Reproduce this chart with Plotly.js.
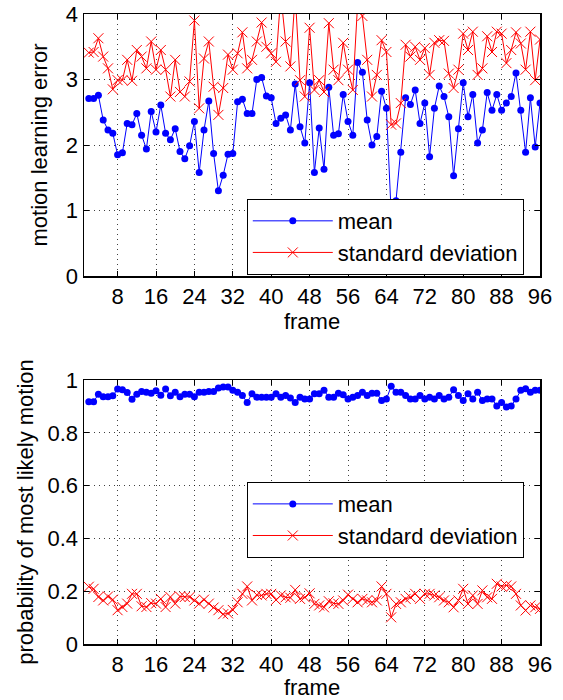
<!DOCTYPE html>
<html>
<head>
<meta charset="utf-8">
<script src="https://cdn.plot.ly/plotly-3.0.1.min.js"></script>
<style>html,body{margin:0;padding:0;background:#fff;}</style>
</head>
<body>
<div id="chart" style="width:563px;height:700px;"></div>
<script>
// frame numbers (x)
const frames = [2,3,4,5,6,7,8,9,10,11,12,13,14,15,16,17,18,19,20,21,22,23,24,25,26,27,28,29,30,31,32,33,34,35,36,37,38,39,40,41,42,43,44,45,46,47,48,49,50,51,52,53,54,55,56,57,58,59,60,61,62,63,64,65,66,67,68,69,70,71,72,73,74,75,76,77,78,79,80,81,82,83,84,85,86,87,88,89,90,91,92,93,94,95,96];
const xTicks = [8,16,24,32,40,48,56,64,72,80,88,96];

// top panel: motion learning error
const errMean = [2.71,2.71,2.76,2.38,2.23,2.18,1.85,1.88,2.33,2.31,2.48,2.15,1.94,2.51,2.20,2.61,2.18,2.08,2.25,1.90,1.79,1.99,2.36,1.58,2.23,2.67,1.87,1.30,1.54,1.86,
  1.87,2.66,2.70,2.48,2.48,3.00,3.03,2.75,2.72,2.33,2.41,2.46,2.23,2.93,2.28,2.03,2.95,1.58,2.26,1.63,2.88,2.15,2.17,2.77,2.36,2.15,3.26,3.11,2.38,2.00,2.13,2.82,2.56,
  0.95,1.15,1.89,2.72,2.62,2.84,2.33,2.64,1.82,2.56,2.90,2.74,2.43,1.53,2.25,2.95,2.43,2.77,2.03,2.23,2.80,2.53,2.77,2.53,2.64,2.74,3.10,2.53,1.89,2.72,1.97,2.64];
const errStd = [3.41,3.42,3.63,3.35,3.17,2.85,2.99,2.99,3.30,2.98,3.45,3.35,3.17,3.58,3.15,3.45,3.15,2.74,3.30,2.81,2.74,2.97,3.90,2.56,3.32,3.58,2.89,2.46,2.87,3.38,
  3.15,3.40,3.72,3.17,3.30,3.58,3.87,3.50,3.40,3.27,4.30,3.58,3.20,4.30,2.99,2.74,3.79,2.84,2.99,2.81,3.86,3.15,2.99,3.56,3.15,2.84,4.15,3.97,3.30,2.74,3.07,3.60,3.42,
  2.31,2.33,2.64,3.53,3.35,3.50,3.30,3.48,3.07,3.56,3.60,3.59,3.09,2.87,3.15,3.70,3.45,3.73,3.07,3.17,3.66,3.42,3.73,3.70,3.25,3.45,3.72,3.55,3.15,3.73,2.99,3.61];
const errTicks = [0,1,2,3,4];

// bottom panel: probability of most likely motion
const probMean = [0.918,0.918,0.946,0.937,0.937,0.940,0.966,0.963,0.953,0.927,0.946,0.957,0.954,0.950,0.959,0.942,0.966,0.940,0.954,0.937,0.946,0.946,0.937,0.954,0.954,0.957,0.957,0.970,0.974,0.974,
  0.961,0.954,0.941,0.915,0.948,0.935,0.935,0.935,0.935,0.948,0.935,0.941,0.932,0.915,0.935,0.928,0.928,0.948,0.948,0.961,0.935,0.935,0.950,0.944,0.928,0.935,0.941,0.954,0.941,0.950,0.950,0.922,0.928,
  0.976,0.954,0.954,0.941,0.928,0.928,0.941,0.928,0.935,0.928,0.941,0.928,0.935,0.963,0.941,0.922,0.948,0.928,0.954,0.922,0.928,0.928,0.902,0.915,0.898,0.902,0.928,0.961,0.967,0.954,0.961,0.961];
const probStd = [0.217,0.209,0.178,0.165,0.180,0.168,0.128,0.140,0.153,0.190,0.190,0.143,0.140,0.155,0.153,0.171,0.140,0.178,0.153,0.180,0.178,0.178,0.165,0.153,0.168,0.153,0.138,0.128,0.113,0.116,
  0.129,0.158,0.190,0.218,0.165,0.186,0.184,0.190,0.190,0.167,0.184,0.177,0.175,0.205,0.171,0.177,0.192,0.152,0.146,0.139,0.162,0.154,0.152,0.165,0.187,0.171,0.158,0.171,0.165,0.158,0.165,0.218,0.190,
  0.101,0.152,0.158,0.171,0.177,0.190,0.171,0.190,0.190,0.184,0.177,0.165,0.158,0.139,0.165,0.209,0.152,0.184,0.152,0.203,0.177,0.171,0.228,0.218,0.222,0.218,0.190,0.146,0.127,0.146,0.139,0.133];
const probTicks = [0,0.2,0.4,0.6,0.8,1];

const names = ['mean','standard deviation'];
const BLUE = '#0000ff', RED = '#ff0000';

function meanTrace(y, xa, ya, lg) {
  return {x: frames, y: y, xaxis: xa, yaxis: ya, legend: lg, name: names[0],
    type: 'scatter', mode: 'lines+markers',
    line: {color: BLUE, width: 1},
    marker: {symbol: 'circle', size: 7, color: BLUE}};
}
function stdTrace(y, xa, ya, lg) {
  return {x: frames, y: y, xaxis: xa, yaxis: ya, legend: lg, name: names[1],
    type: 'scatter', mode: 'lines+markers',
    line: {color: RED, width: 1},
    marker: {symbol: 'x-thin-open', size: 10, color: RED, line: {color: RED, width: 1}}};
}

const data = [
  meanTrace(errMean, 'x', 'y', 'legend'),
  stdTrace(errStd, 'x', 'y', 'legend'),
  meanTrace(probMean, 'x2', 'y2', 'legend2'),
  stdTrace(probStd, 'x2', 'y2', 'legend2')
];

const FONT = '"Liberation Sans", Arial, Helvetica, sans-serif';
function xAxis(anchor) {
  return {anchor: anchor, domain: [0, 1], range: [1, 96], tickvals: xTicks,
    ticks: 'inside', ticklen: 5, tickwidth: 1, tickcolor: '#000', mirror: 'ticks',
    showline: true, linecolor: '#000', linewidth: 1.5,
    showgrid: true, gridcolor: 'rgba(0,0,0,0.75)', griddash: '1px,4px', gridwidth: 1,
    zeroline: false, automargin: false,
    tickfont: {size: 22, color: '#000'},
    title: {text: 'frame', font: {size: 22, color: '#000'}, standoff: 2}};
}
function yAxis(anchor, domain, range, ticks, title, standoff) {
  return {anchor: anchor, domain: domain, range: range, tickvals: ticks,
    ticks: 'inside', ticklen: 5, tickwidth: 1, tickcolor: '#000', mirror: 'ticks',
    showline: true, linecolor: '#000', linewidth: 1.5,
    showgrid: true, gridcolor: 'rgba(0,0,0,0.75)', griddash: '1px,4px', gridwidth: 1,
    zeroline: false, automargin: false,
    tickfont: {size: 22, color: '#000'},
    title: {text: title, font: {size: 22, color: '#000'}, standoff: standoff}};
}

const legendBase = {xanchor: 'left', yanchor: 'top', bgcolor: '#fff', bordercolor: '#000',
  borderwidth: 1, font: {size: 22, color: '#000'}, itemwidth: 80, tracegroupgap: 0};

const layout = {
  width: 563, height: 700,
  margin: {l: 84, r: 23, t: 14, b: 56},
  paper_bgcolor: '#fff', plot_bgcolor: '#fff',
  font: {family: FONT, size: 22, color: '#000'},
  showlegend: true,
  xaxis: xAxis('y'),
  yaxis: yAxis('x', [0.5841, 1], [0, 4], errTicks, 'motion learning error', 12),
  xaxis2: xAxis('y2'),
  yaxis2: yAxis('x2', [0, 0.419], [0, 1], probTicks, 'probability of most likely motion', 8),
  legend: Object.assign({x: 0.357, y: 0.7063}, legendBase),
  legend2: Object.assign({x: 0.357, y: 0.257}, legendBase)
};

Plotly.newPlot('chart', data, layout, {staticPlot: true, displayModeBar: false});
</script>
</body>
</html>
